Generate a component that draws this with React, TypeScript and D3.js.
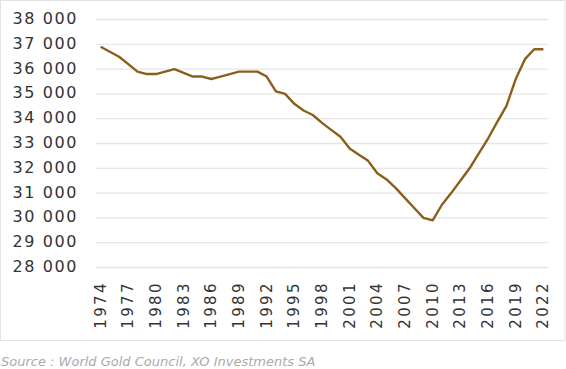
import React, { useEffect, useRef } from 'react';
import * as d3 from 'd3';

const years: number[] = d3.range(1974, 2023);

const values: number[] = [
  36900, 36700, 36500, 36200, 35900, 35800, 35800, 35900, 36000, 35850,
  35700, 35700, 35600, 35700, 35800, 35900, 35900, 35900, 35700, 35100,
  35000, 34600, 34330, 34150, 33830, 33550, 33270, 32800, 32550, 32300,
  31800, 31550, 31200, 30800, 30400, 30000, 29900, 30530, 31000, 31500,
  32000, 32600, 33200, 33870, 34520, 35600, 36400, 36800, 36800,
];

const yTicks: number[] = [28000, 29000, 30000, 31000, 32000, 33000, 34000, 35000, 36000, 37000, 38000];

const sourceText = 'Source : World Gold Council, XO Investments SA';

const W = 566;
const H = 369;

export default function App() {
  const svgRef = useRef<SVGSVGElement>(null);

  useEffect(() => {
    document.body.style.margin = '0';
    if (!svgRef.current) return;
    const svg = d3.select(svgRef.current);
    svg.selectAll('*').remove();

    const font = '"DejaVu Sans", sans-serif';
    const margin = { top: 19.5, right: 18, bottom: 101.5, left: 96 };

    // chart frame
    svg.append('rect')
      .attr('x', 0.5)
      .attr('y', 0.5)
      .attr('width', W - 1.5)
      .attr('height', 340)
      .attr('fill', '#fff')
      .attr('stroke', '#e2e2e2')
      .attr('stroke-width', 1);

    const x = d3.scaleBand<number>()
      .domain(years)
      .range([margin.left, W - margin.right]);

    const y = d3.scaleLinear()
      .domain([28000, 38000])
      .range([H - margin.bottom, margin.top]);

    const fmt = (d: number) => d3.format(',')(d).replace(',', ' ');

    // gridlines
    svg.append('g')
      .selectAll('line')
      .data(yTicks)
      .enter()
      .append('line')
      .attr('x1', margin.left)
      .attr('x2', W - margin.right)
      .attr('y1', d => y(d))
      .attr('y2', d => y(d))
      .attr('stroke', '#e6e6e6')
      .attr('stroke-width', 1.3);

    // y labels
    svg.append('g')
      .selectAll('text')
      .data(yTicks)
      .enter()
      .append('text')
      .attr('x', 78)
      .attr('y', d => y(d) - 1)
      .attr('text-anchor', 'end')
      .attr('dominant-baseline', 'central')
      .style('font-family', font)
      .style('font-size', '16px')
      .style('letter-spacing', '1.6px')
      .attr('fill', '#333')
      .text(d => fmt(d));

    // x labels, every third year
    const labelYears = years.filter((_, i) => i % 3 === 0);
    svg.append('g')
      .selectAll('text')
      .data(labelYears)
      .enter()
      .append('text')
      .attr('transform', d => `translate(${(x(d) || 0) + x.bandwidth() / 2 + 5},281) rotate(-90)`)
      .attr('text-anchor', 'end')
      .style('font-family', font)
      .style('font-size', '15px')
      .style('letter-spacing', '2.4px')
      .attr('fill', '#333')
      .text(d => String(d));

    const line = d3.line<number>()
      .x((_, i) => (x(years[i]) || 0) + x.bandwidth() / 2)
      .y(d => y(d));

    svg.append('path')
      .datum(values)
      .attr('fill', 'none')
      .attr('stroke', '#8c5e1c')
      .attr('stroke-width', 2.4)
      .attr('stroke-linejoin', 'round')
      .attr('d', line);

    svg.append('text')
      .attr('x', 1)
      .attr('y', 366)
      .style('font-family', font)
      .style('font-size', '13px')
      .style('font-style', 'italic')
      .attr('fill', '#aaa')
      .text(sourceText);
  }, []);

  return (
    <svg
      ref={svgRef}
      width={W}
      height={H}
      style={{ display: 'block' }}
      role="img"
      aria-label="Line chart of gold reserves, 1974 to 2022"
    ></svg>
  );
}
